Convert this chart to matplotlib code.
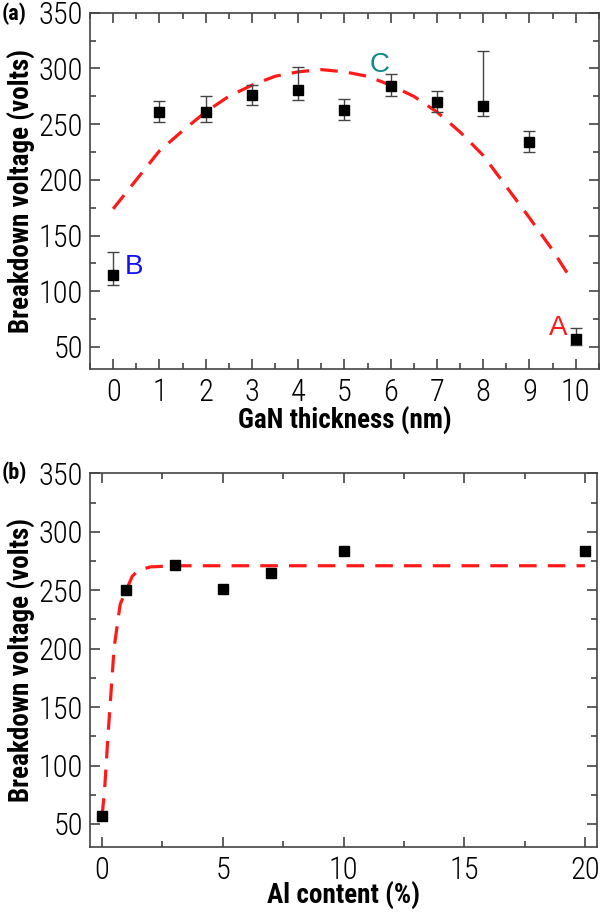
import numpy as np
import matplotlib
matplotlib.use("Agg")
import matplotlib.pyplot as plt
from matplotlib.ticker import MultipleLocator

plt.rcParams['font.family'] = ['Roboto Condensed', 'Liberation Sans', 'DejaVu Sans']

# panel (a) data
gan_nm = [0, 1, 2, 3, 4, 5, 6, 7, 8, 9, 10]
vbd_a = [115, 261, 261, 276, 281, 263, 284, 270, 266, 234, 57]
err_lo = [9, 9, 9, 9, 9, 9, 9, 9, 9, 9, 5]
err_hi = [20, 10, 14, 9, 20, 10, 11, 10, 50, 10, 10]
fit_a_x = [0, 0.5, 1, 1.5, 2, 2.5, 3, 3.5, 4, 4.5, 5, 5.5, 6, 6.5, 7, 7.5, 8, 8.5, 9, 9.5, 9.9]
fit_a_y = [174, 200, 226, 244, 261, 275, 285, 293, 297, 299, 297, 293, 285, 275, 261, 243, 222, 194, 166, 137, 111]

# panel (b) data
al_pct = [0, 1, 3, 5, 7, 10, 20]
vbd_b = [57, 250, 272, 251, 265, 284, 284]
fit_b_x = [0, 0.1, 0.25, 0.5, 0.75, 1, 1.25, 1.5, 2, 3, 5, 10, 15, 20]
fit_b_y = [57, 78, 127, 201, 238, 250, 262, 267, 270, 271, 271, 271, 271, 271]

fig = plt.figure(figsize=(6, 9.14), dpi=100)
ax1 = fig.add_axes([0.15, 0.596, 0.848, 0.39])
ax2 = fig.add_axes([0.15, 0.073, 0.845, 0.409])

def style(ax):
    for s in ax.spines.values():
        s.set_color('#444444')
        s.set_linewidth(1.2)
    ax.tick_params(which='both', direction='in', top=True, right=True, colors='#444444',
                   labelcolor='black', labelsize=22)
    ax.tick_params(which='major', length=7, width=1.2)
    ax.tick_params(which='minor', length=4, width=1.2)
    ax.tick_params(axis='x', pad=6)
    ax.tick_params(axis='y', pad=5)
    for t in ax.get_xticklabels() + ax.get_yticklabels():
        t.set_fontweight('light')
    ax.set_ylim(30, 350)
    ax.yaxis.set_major_locator(MultipleLocator(50))
    ax.yaxis.set_minor_locator(MultipleLocator(25))
    ax.set_ylabel('Breakdown voltage (volts)', fontsize=19.5, fontweight='bold', labelpad=2)

# (a)
ax1.plot(fit_a_x, fit_a_y, color='#ff1a1a', lw=2.3, dashes=(5.5, 3.5))
ax1.errorbar(gan_nm, vbd_a, yerr=[err_lo, err_hi], fmt='s', color='black', ms=6.5,
             ecolor='#444444', elinewidth=1, capsize=4, capthick=1)
ax1.set_xlim(-0.5, 10.5)
ax1.xaxis.set_major_locator(MultipleLocator(1))
ax1.xaxis.set_minor_locator(MultipleLocator(0.5))
style(ax1)
ax1.set_xlabel('GaN thickness (nm)', fontsize=19.5, fontweight='bold', labelpad=0)
ax1.text(0.25, 122, 'B', color='#1010ff', fontsize=20, va='center',
         family=['Liberation Sans', 'DejaVu Sans'])
ax1.text(5.55, 303, 'C', color='#108a8a', fontsize=20, va='center',
         family=['Liberation Sans', 'DejaVu Sans'])
ax1.text(9.42, 67, 'A', color='#ff1a1a', fontsize=20, va='center',
         family=['Liberation Sans', 'DejaVu Sans'])

# (b)
ax2.plot(fit_b_x, fit_b_y, color='#ff1a1a', lw=2.3, dashes=(5.5, 3.5))
ax2.plot(al_pct, vbd_b, 's', color='black', ms=6.5)
ax2.set_xlim(-0.5, 20.5)
ax2.xaxis.set_major_locator(MultipleLocator(5))
ax2.xaxis.set_minor_locator(MultipleLocator(2.5))
style(ax2)
ax2.set_xlabel('Al content (%)', fontsize=19.5, fontweight='bold', labelpad=-2)

fig.text(0.003, 0.985, '(a)', fontsize=16, fontweight='bold', va='center')
fig.text(0.003, 0.483, '(b)', fontsize=16, fontweight='bold', va='center')

fig.savefig('out.png', dpi=100)
